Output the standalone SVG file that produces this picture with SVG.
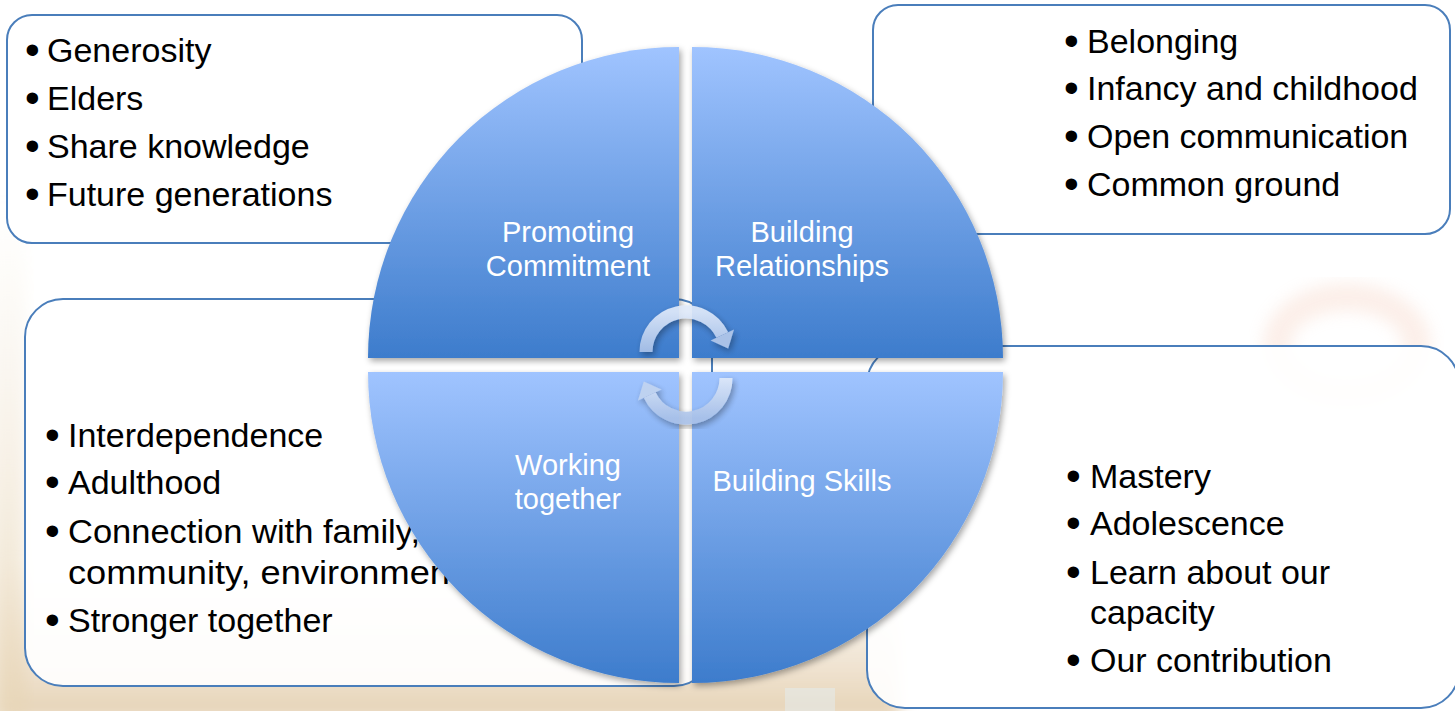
<svg xmlns="http://www.w3.org/2000/svg" width="1455" height="711" viewBox="0 0 1455 711">
<style>
.box{fill:#ffffff;fill-opacity:0.9;stroke:#4a7ebb;stroke-width:2}
.item{font-family:"Liberation Sans",Arial,sans-serif;font-size:34px;fill:#000}
.bul{font-family:"Liberation Sans",Arial,sans-serif;font-size:42px;fill:#000}
.lbl{font-family:"Liberation Sans",Arial,sans-serif;font-size:29px;fill:#fff;text-anchor:middle}
.q{filter:url(#sh)}
</style>
<defs>
<linearGradient id="qg" x1="0" y1="0" x2="0" y2="1">
<stop offset="0" stop-color="#a0c4ff"/>
<stop offset="1" stop-color="#3d7ccc"/>
</linearGradient>
<linearGradient id="ag" x1="0" y1="0" x2="0" y2="1">
<stop offset="0" stop-color="#dfe9f9"/>
<stop offset="1" stop-color="#a9c1e8"/>
</linearGradient>
<linearGradient id="bg1" x1="0" y1="560" x2="0" y2="711" gradientUnits="userSpaceOnUse">
<stop offset="0" stop-color="#ecdcc4" stop-opacity="0"/>
<stop offset="1" stop-color="#e4cfb0" stop-opacity="0.9"/>
</linearGradient>
<linearGradient id="bg2" x1="0" y1="200" x2="0" y2="711" gradientUnits="userSpaceOnUse">
<stop offset="0" stop-color="#efe2cc" stop-opacity="0"/>
<stop offset="1" stop-color="#e8d6b8" stop-opacity="0.8"/>
</linearGradient>
<filter id="sh" x="-10%" y="-10%" width="120%" height="120%">
<feDropShadow dx="2" dy="3" stdDeviation="3" flood-color="#000" flood-opacity="0.35"/>
</filter>
<filter id="blur" x="-20%" y="-20%" width="140%" height="140%">
<feGaussianBlur stdDeviation="8"/>
</filter>
</defs>

<g id="background">
<rect width="1455" height="711" fill="#ffffff"/>
<rect x="0" y="560" width="900" height="160" fill="url(#bg1)" filter="url(#blur)"/>
<rect x="-10" y="200" width="36" height="520" fill="url(#bg2)" filter="url(#blur)"/>
<ellipse cx="1347" cy="345" rx="70" ry="48" fill="none" stroke="#f3c0a8" stroke-width="28" opacity="0.25" filter="url(#blur)"/>
<rect x="785" y="688" width="50" height="23" fill="#e3edf2" opacity="0.5"/>
</g>

<g id="box-top-left">
<rect class="box" x="7" y="15" width="575" height="228" rx="25"/>
<text class="bul"><tspan x="25" y="64">•</tspan><tspan x="25" y="112">•</tspan><tspan x="25" y="160">•</tspan><tspan x="25" y="208">•</tspan></text>
<text class="item"><tspan x="47" y="62">Generosity</tspan></text>
<text class="item"><tspan x="47" y="110">Elders</tspan></text>
<text class="item"><tspan x="47" y="158">Share knowledge</tspan></text>
<text class="item"><tspan x="47" y="206">Future generations</tspan></text>
</g>

<g id="box-top-right">
<rect class="box" x="873" y="5" width="577" height="229" rx="25"/>
<text class="bul"><tspan x="1064" y="55">•</tspan><tspan x="1064" y="102">•</tspan><tspan x="1064" y="150">•</tspan><tspan x="1064" y="198">•</tspan></text>
<text class="item"><tspan x="1087" y="53">Belonging</tspan></text>
<text class="item"><tspan x="1087" y="100">Infancy and childhood</tspan></text>
<text class="item"><tspan x="1087" y="148">Open communication</tspan></text>
<text class="item"><tspan x="1087" y="196">Common ground</tspan></text>
</g>

<g id="box-bottom-left">
<rect class="box" x="25" y="299" width="687" height="387" rx="38"/>
<text class="bul"><tspan x="45" y="449">•</tspan><tspan x="45" y="496">•</tspan><tspan x="45" y="545">•</tspan><tspan x="45" y="634">•</tspan></text>
<text class="item"><tspan x="68" y="447">Interdependence</tspan></text>
<text class="item"><tspan x="68" y="494">Adulthood</tspan></text>
<text class="item"><tspan x="68" y="543" textLength="352" lengthAdjust="spacingAndGlyphs">Connection with family,</tspan><tspan x="68" y="584" textLength="392" lengthAdjust="spacingAndGlyphs">community, environment</tspan></text>
<text class="item"><tspan x="68" y="632">Stronger together</tspan></text>
</g>

<g id="box-bottom-right">
<rect class="box" x="867" y="346" width="592" height="362" rx="38"/>
<text class="bul"><tspan x="1066" y="490">•</tspan><tspan x="1066" y="537">•</tspan><tspan x="1066" y="586">•</tspan><tspan x="1066" y="674">•</tspan></text>
<text class="item"><tspan x="1090" y="488">Mastery</tspan></text>
<text class="item"><tspan x="1090" y="535">Adolescence</tspan></text>
<text class="item"><tspan x="1090" y="584">Learn about our</tspan><tspan x="1090" y="624">capacity</tspan></text>
<text class="item"><tspan x="1090" y="672">Our contribution</tspan></text>
</g>

<g id="quadrant-promoting-commitment">
<path class="q" d="M679,358 L368,358 A311,311 0 0 1 679,47 Z" fill="url(#qg)"/>
<text class="lbl"><tspan x="568" y="242">Promoting</tspan><tspan x="568" y="276">Commitment</tspan></text>
</g>
<g id="quadrant-building-relationships">
<path class="q" d="M692,358 L692,47 A311,311 0 0 1 1003,358 Z" fill="url(#qg)"/>
<text class="lbl"><tspan x="802" y="242">Building</tspan><tspan x="802" y="276">Relationships</tspan></text>
</g>
<g id="quadrant-building-skills">
<path class="q" d="M692,372 L1003,372 A311,311 0 0 1 692,683 Z" fill="url(#qg)"/>
<text class="lbl"><tspan x="802" y="491">Building Skills</tspan></text>
</g>
<g id="quadrant-working-together">
<path class="q" d="M679,372 L679,683 A311,311 0 0 1 368,372 Z" fill="url(#qg)"/>
<text class="lbl"><tspan x="568" y="475">Working</tspan><tspan x="568" y="509">together</tspan></text>
</g>

<g id="connectors" filter="url(#sh)" opacity="0.92">
<path d="M646,352 A40,40 0 0 1 722.3,335.1" fill="none" stroke="url(#ag)" stroke-width="13"/>
<polygon points="734,329.5 710.6,340.5 728.2,348.5" fill="#b3c8ea"/>
<path d="M726,378 A40,40 0 0 1 649.7,394.9" fill="none" stroke="url(#ag)" stroke-width="13"/>
<polygon points="638,400.5 661.4,389.5 643.8,381.5" fill="#c2d4f0"/>
</g>
</svg>
